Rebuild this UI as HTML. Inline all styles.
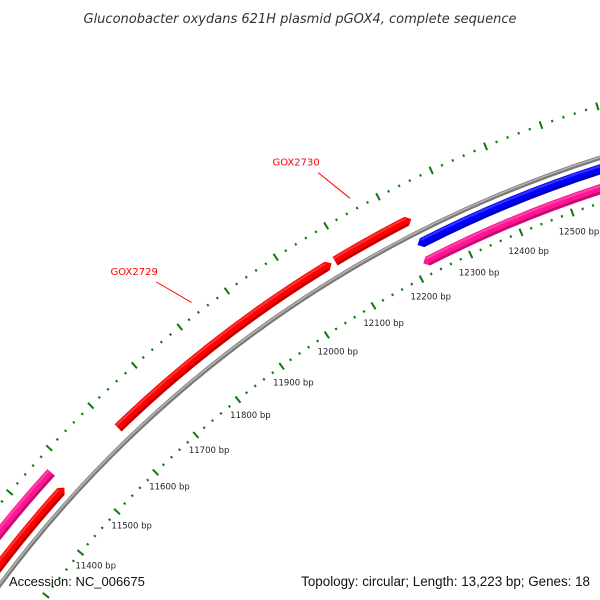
<!DOCTYPE html>
<html><head><meta charset="utf-8">
<style>
html,body{margin:0;padding:0;background:#fff;width:600px;height:600px;overflow:hidden;}
svg{display:block;font-family:"DejaVu Sans","Liberation Sans",sans-serif;}
</style></head>
<body>
<svg id="map" width="600" height="600" viewBox="0 0 600 600" xmlns="http://www.w3.org/2000/svg">
<defs>
  <clipPath id="clipArea"><rect x="0" y="0" width="600" height="600"/></clipPath>
</defs>
<text x="300" y="23" text-anchor="middle" font-size="13" font-style="italic" fill="#333">Gluconobacter oxydans 621H plasmid pGOX4, complete sequence</text>
<g id="plot" clip-path="url(#clipArea)"></g>
<text x="9" y="586" font-size="13" fill="#111" style="font-family:'Liberation Sans',sans-serif">Accession: NC_006675</text>
<text x="590" y="586" text-anchor="end" font-size="13.4" fill="#111" style="font-family:'Liberation Sans',sans-serif">Topology: circular; Length: 13,223 bp; Genes: 18</text>
</svg>
<script>
const seqLength = 13223;
const tickStart = 11200;
const tickEnd = 12800;
const minorStep = 20;
const majorStep = 100;
const geneNames = ["GOX2729", "GOX2730", "gene-blue", "gene-pink-inner", "gene-pink-outer", "gene-red-lower"];
const geneStarts = [11607, 12082, 12222, 12216, 11000, 11000];
const geneEnds = [12075, 12233, 12900, 12900, 11472, 11468];
const geneStrands = [1, 1, -1, -1, -1, 1];
const geneLabels = ["GOX2729", "GOX2730", "", "", "", ""];

const cx = 962, cy = 1302;
const R_BACK = 1200, R_OUTER_TICK = 1250, R_INNER_TICK = 1157, R_LABEL = 1137;
const colors = {"GOX2729":"#ff0000","GOX2730":"#ff0000","gene-blue":"#0000ff","gene-pink-inner":"#ff1493","gene-pink-outer":"#ff1493","gene-red-lower":"#ff0000"};
const radii = {"GOX2729":1215,"GOX2730":1215,"gene-blue":1189,"gene-pink-inner":1170,"gene-pink-outer":1232,"gene-red-lower":1212};
const NS = "http://www.w3.org/2000/svg";
const plot = document.getElementById('plot');

function ang(pos){ return pos / seqLength * 2 * Math.PI; }
function pt(r, pos){ const a = ang(pos); return [cx + r*Math.sin(a), cy - r*Math.cos(a)]; }
function mk(tag, attrs){ const e = document.createElementNS(NS, tag); for (const k in attrs) e.setAttribute(k, attrs[k]); return e; }
function arcD(r, p1, p2){
  const a = pt(r,p1), b = pt(r,p2);
  return "M"+a[0].toFixed(2)+","+a[1].toFixed(2)+" A"+r+","+r+" 0 0 1 "+b[0].toFixed(2)+","+b[1].toFixed(2);
}

// backbone
const bb1 = mk('path', {d: arcD(R_BACK, 10500, 13000), fill:'none', stroke:'#7a7a7a', 'stroke-width':4.5});


plot.appendChild(bb1);
const bb2 = mk('path', {d: arcD(R_BACK+0.7, 10500, 13000), fill:'none', stroke:'#b5b5b5', 'stroke-width':1.5});


plot.appendChild(bb2);

// ticks
for (let p = tickStart; p <= tickEnd; p += minorStep) {
  const major = (p % majorStep === 0);
  const len = major ? 4 : 1.2;
  [R_OUTER_TICK, R_INNER_TICK].forEach(function(R, idx){
    const a = pt(R - len, p), b = pt(R + len, p);
    const t = mk('line', {x1:a[0], y1:a[1], x2:b[0], y2:b[1], stroke:'#0a7a0a', 'stroke-width':2});
    
    
    plot.appendChild(t);
  });
  if (major) {
    const lp = pt(R_LABEL, p);
    const tx = mk('text', {x:lp[0], y:lp[1]+3, 'text-anchor':'middle', 'font-size':8.5, fill:'#222'});
    tx.textContent = p + " bp";
    
    
    plot.appendChild(tx);
  }
}

// genes
const HW = 5, HEAD = 9;
for (let i = 0; i < geneNames.length; i++) {
  const nm = geneNames[i], r = radii[nm], s = geneStarts[i], e = geneEnds[i], st = geneStrands[i];
  const ro = r + HW, ri = r - HW;
  let d;
  if (st > 0) {
    const hb = Math.max(s, e - HEAD);
    const a1 = pt(ro, s), a2 = pt(ro, hb), tip = pt(r, e), b2 = pt(ri, hb), b1 = pt(ri, s);
    d = "M"+a1+" A"+ro+","+ro+" 0 0 1 "+a2+" L"+tip+" L"+b2+" A"+ri+","+ri+" 0 0 0 "+b1+" Z";
  } else {
    const hb = Math.min(e, s + HEAD);
    const tip = pt(r, s), a2 = pt(ro, hb), a3 = pt(ro, e), b3 = pt(ri, e), b2 = pt(ri, hb);
    d = "M"+tip+" L"+a2+" A"+ro+","+ro+" 0 0 1 "+a3+" L"+b3+" A"+ri+","+ri+" 0 0 0 "+b2+" Z";
  }
  const g = mk('path', {d: d, fill: colors[nm]});
  
  
  plot.appendChild(g);
  const sh = mk('path', {d: arcD(ri + 1.5, st > 0 ? s : s + HEAD, st > 0 ? e - HEAD : e), fill:'none', stroke:'#000', 'stroke-opacity':0.25, 'stroke-width':2.5});
  
  
  plot.appendChild(sh);
  const hl = mk('path', {d: arcD(ro - 2, st > 0 ? s : s + HEAD, st > 0 ? e - HEAD : e), fill:'none', stroke:'#fff', 'stroke-opacity':0.2, 'stroke-width':2});
  
  
  plot.appendChild(hl);
  if (geneLabels[i]) {
    const mid = (s + e) / 2;
    const lp1 = pt(1262, mid), lp2 = pt(1300, mid - 25);
    const ln = mk('line', {x1:lp1[0], y1:lp1[1], x2:lp2[0], y2:lp2[1], stroke:'#ff0000', 'stroke-width':1});
    
    
    plot.appendChild(ln);
    const lt = mk('text', {x:lp2[0]-22, y:lp2[1]-7, 'text-anchor':'middle', 'font-size':10, fill:'#ff0000'});
    lt.textContent = geneLabels[i];
    
    
    plot.appendChild(lt);
  }
}
</script>
</body></html>
